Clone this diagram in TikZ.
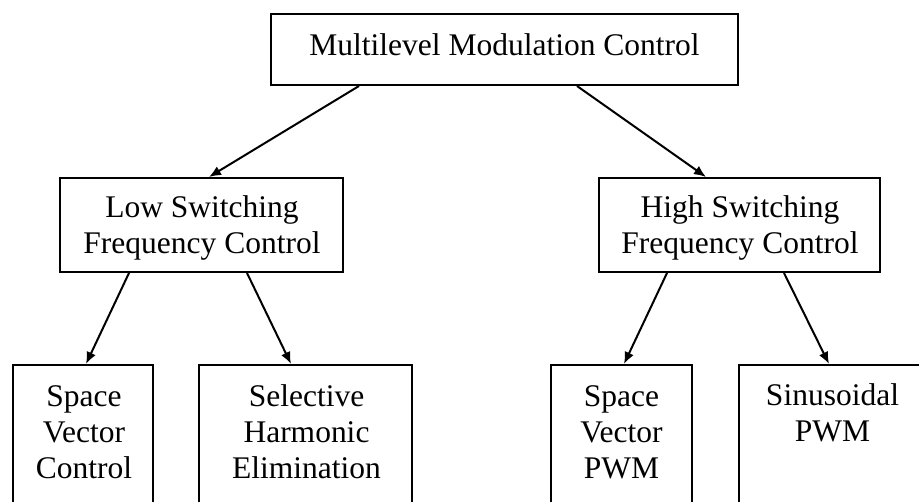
\documentclass[tikz,border=0pt]{standalone}
\usepackage{fontspec}
\setmainfont{Liberation Serif}
\usetikzlibrary{arrows.meta}
\begin{document}
\begin{tikzpicture}[x=1pt,y=-1pt,
  box/.style={draw, line width=2pt, rectangle, inner sep=0pt},
  lbl/.style={font=\fontsize{31.5}{36}\selectfont, align=center, inner sep=0pt, anchor=north},
  link/.style={line width=2pt, -{Latex[length=12pt,width=10pt]}}]
\useasboundingbox (0,0) rectangle (919,502);
\clip (0,0) rectangle (919,502);
\fill[white] (0,0) rectangle (919,502);

% boxes
\node[box, minimum width=467pt, minimum height=71pt] (top) at (504.5,49.5) {};
\node[box, minimum width=283pt, minimum height=94pt] (lm) at (201.5,225) {};
\node[box, minimum width=281pt, minimum height=94pt] (rm) at (739.5,225) {};
\node[box, minimum width=140pt, minimum height=200pt] (svc) at (83,465) {};
\node[box, minimum width=213pt, minimum height=200pt] (she) at (305.5,465) {};
\node[box, minimum width=141pt, minimum height=200pt] (svp) at (621.5,465) {};
\node[box, minimum width=187pt, minimum height=200pt] (sin) at (832.5,465) {};

% labels
\node[lbl] (topt) at (504.5,33) {Multilevel Modulation Control};
\node[lbl] (lmt) at (202,195) {Low Switching\\Frequency Control};
\node[lbl] (rmt) at (740,195) {High Switching\\Frequency Control};
\node[lbl] (svct) at (84,385) {Space\\Vector\\Control};
\node[lbl] (shet) at (306.5,384) {Selective\\Harmonic\\Elimination};
\node[lbl] (svpt) at (621.5,385) {Space\\Vector\\PWM};
\node[lbl] (sint) at (832.5,383) {Sinusoidal\\PWM};

% connectors
\draw[link] ([xshift=89pt]top.south west) -- ([xshift=150pt]lm.north west);
\draw[link] ([xshift=307pt]top.south west) -- ([xshift=108pt]rm.north west);
\draw[link] ([xshift=70pt]lm.south west) -- ([xshift=74pt]svc.north west);
\draw[link] ([xshift=188pt]lm.south west) -- ([xshift=93pt]she.north west);
\draw[link] ([xshift=69pt]rm.south west) -- ([xshift=74pt]svp.north west);
\draw[link] ([xshift=186pt]rm.south west) -- ([xshift=91pt]sin.north west);
\end{tikzpicture}
\end{document}
